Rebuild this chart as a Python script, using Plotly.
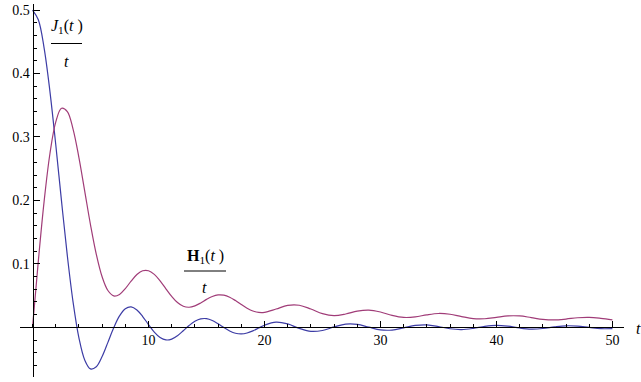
import plotly.graph_objects as go

t = [0, 0.5, 1, 1.5, 2, 2.5, 3, 3.5, 4, 4.5, 5,
     5.5, 6, 6.5, 7, 7.5, 8, 8.5, 9, 9.5, 10,
     10.5, 11, 11.5, 12, 12.5, 13, 13.5, 14, 14.5, 15,
     15.5, 16, 16.5, 17, 17.5, 18, 18.5, 19, 19.5, 20,
     21, 22, 23, 24, 25, 26, 27, 28, 29, 30,
     31, 32, 33, 34, 35, 36, 37, 38, 39, 40,
     41, 42, 43, 44, 45, 46, 47, 48, 49, 50]

j1_over_t = [0.5000, 0.4846, 0.4401, 0.3719, 0.2884, 0.1988, 0.1130, 0.0393, -0.0165, -0.0514, -0.0655,
             -0.0621, -0.0461, -0.0237, -0.0007, 0.0180, 0.0293, 0.0321, 0.0273, 0.0170, 0.0044,
             -0.0075, -0.0161, -0.0199, -0.0186, -0.0132, -0.0054, 0.0028, 0.0095, 0.0133, 0.0137,
             0.0108, 0.0056, -0.0004, -0.0057, -0.0093, -0.0104, -0.0090, -0.0056, -0.0011, 0.0033,
             0.0081, 0.0053, -0.0017, -0.0064, -0.0050, 0.0006, 0.0051, 0.0047, 0.0002, -0.0040,
             -0.0043, -0.0008, 0.0030, 0.0039, 0.0013, -0.0023, -0.0035, -0.0016, 0.0016, 0.0032,
             0.0018, -0.0011, -0.0028, -0.0019, 0.0006, 0.0024, 0.0019, -0.0002, -0.0021, -0.0020]

h1_over_t = [0.0000, 0.1043, 0.1985, 0.2735, 0.3234, 0.3453, 0.3400, 0.3119, 0.2674, 0.2147, 0.1616,
             0.1151, 0.0797, 0.0580, 0.0495, 0.0518, 0.0610, 0.0728, 0.0832, 0.0891, 0.0892,
             0.0834, 0.0732, 0.0607, 0.0487, 0.0390, 0.0331, 0.0316, 0.0338, 0.0384, 0.0440,
             0.0486, 0.0511, 0.0506, 0.0474, 0.0421, 0.0359, 0.0301, 0.0257, 0.0235, 0.0236,
             0.0288, 0.0346, 0.0348, 0.0288, 0.0216, 0.0185, 0.0210, 0.0255, 0.0271, 0.0241,
             0.0188, 0.0156, 0.0164, 0.0197, 0.0218, 0.0206, 0.0169, 0.0137, 0.0135, 0.0158,
             0.0180, 0.0179, 0.0153, 0.0125, 0.0116, 0.0130, 0.0151, 0.0157, 0.0141, 0.0116]

x_ticks = [10, 20, 30, 40, 50]
x_tick_labels = ["10", "20", "30", "40", "50"]
y_ticks = [0.1, 0.2, 0.3, 0.4, 0.5]
y_tick_labels = ["0.1", "0.2", "0.3", "0.4", "0.5"]

W, H = 641, 382
BLUE = "rgb(60,60,165)"
PURPLE = "rgb(160,60,120)"
FONT = "'Liberation Serif', 'DejaVu Serif', serif"

fig = go.Figure()
fig.add_trace(go.Scatter(x=t, y=j1_over_t, mode="lines",
                         line=dict(color=BLUE, width=1.2, shape="spline"), hoverinfo="skip"))
fig.add_trace(go.Scatter(x=t, y=h1_over_t, mode="lines",
                         line=dict(color=PURPLE, width=1.2, shape="spline"), hoverinfo="skip"))

def px(x):
    return x / W

def py(y):
    return 1 - y / H

fig.update_layout(
    width=W, height=H,
    margin=dict(l=0, r=0, t=0, b=0),
    paper_bgcolor="white", plot_bgcolor="white",
    showlegend=False,
    font=dict(family=FONT, size=13, color="black"),
    xaxis=dict(
        range=[-1.08, 51.0], domain=[20 / W, 624 / W],
        anchor="free", position=(H - 327.3) / H,
        showgrid=False, zeroline=False,
        showline=True, linecolor="black", linewidth=1,
        tickmode="array", tickvals=x_ticks, ticktext=x_tick_labels,
        ticks="inside", ticklen=6, tickcolor="black", tickwidth=1,
        minor=dict(tickmode="linear", tick0=0, dtick=2, ticks="inside", ticklen=3.5,
                   tickcolor="black", tickwidth=1, showgrid=False),
        tickfont=dict(family=FONT, size=14, color="black"),
    ),
    yaxis=dict(
        range=[-0.0783, 0.5095], domain=[5 / H, 378 / H],
        anchor="free", position=32.5 / W,
        showgrid=False, zeroline=False,
        showline=True, linecolor="black", linewidth=1,
        tickmode="array", tickvals=y_ticks, ticktext=y_tick_labels,
        ticks="inside", ticklen=6, tickcolor="black", tickwidth=1,
        minor=dict(tickmode="linear", tick0=0, dtick=0.02, ticks="inside", ticklen=3.5,
                   tickcolor="black", tickwidth=1, showgrid=False),
        tickfont=dict(family=FONT, size=14, color="black"),
    ),
)

# labels (fractions)
ann = [
    dict(text="<i>J</i><sub>1</sub>(<i>t</i> )", x=px(67), y=py(27)),
    dict(text="<i>t</i>", x=px(66), y=py(61)),
    dict(text="<b>H</b><sub>1</sub>(<i>t</i> )", x=px(205), y=py(256)),
    dict(text="<i>t</i>", x=px(204), y=py(287)),
]
for a in ann:
    fig.add_annotation(xref="paper", yref="paper", showarrow=False,
                       xanchor="center", yanchor="middle",
                       font=dict(family=FONT, size=16, color="black"), **a)
fig.add_annotation(xref="paper", yref="paper", showarrow=False, xanchor="left", yanchor="middle",
                   text="<i>t</i>", x=px(634), y=py(328),
                   font=dict(family=FONT, size=16, color="black"))

fig.add_shape(type="line", xref="paper", yref="paper", x0=px(51), x1=px(82), y0=py(43.5), y1=py(43.5),
              line=dict(color="black", width=1))
fig.add_shape(type="line", xref="paper", yref="paper", x0=px(184), x1=px(226), y0=py(271), y1=py(271),
              line=dict(color="black", width=1))

fig.write_html("out.html")
